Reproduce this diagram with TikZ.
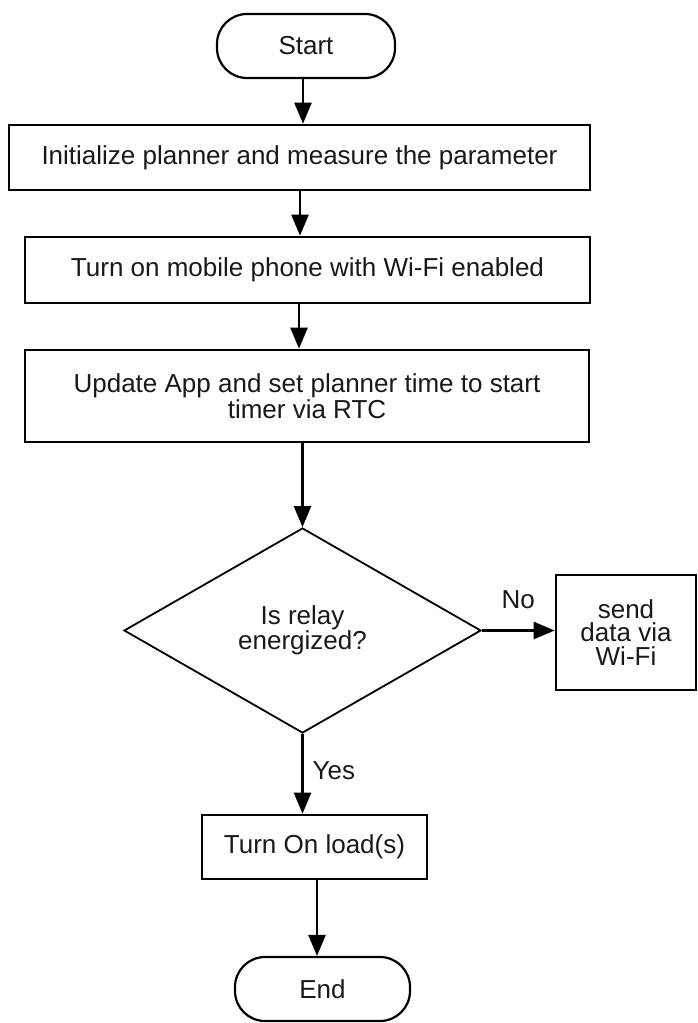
\documentclass[tikz,border=0pt]{standalone}
\usepackage{fontspec}
\setmainfont{Liberation Sans}
\usetikzlibrary{shapes.geometric,arrows.meta,calc}
\begin{document}
\begin{tikzpicture}[x=1pt,y=-1pt,
  every node/.style={font=\fontsize{26}{25.5}\selectfont, text=black!90},
  box/.style={draw, line width=2.6pt, align=center, inner sep=0pt},
  term/.style={draw, line width=2.2pt, rounded corners=30pt, inner sep=0pt, align=center},
  decision/.style={draw, diamond, line width=1.8pt, inner sep=0pt, align=center},
  arr/.style={line width=2.4pt, -{Triangle[length=21pt,width=17pt]}},
  lbl/.style={inner sep=0pt}]
\useasboundingbox (0,0) rectangle (697,1023);
\fill[white] (0,0) rectangle (697,1023);

\node[term, minimum width=178pt, minimum height=64pt] (start) at (306,46) {Start};
\node[box, minimum width=581pt, minimum height=65pt] (b1) at (299.5,157.5) {Initialize planner and measure the parameter};
\node[box, minimum width=565pt, minimum height=66pt] (b2) at (307.5,270) {Turn on mobile phone with Wi-Fi enabled};
\node[box, minimum width=564pt, minimum height=92pt] (b3) at (307,396) {Update App and set planner time to start\\timer via RTC};
\node[decision, minimum width=357pt, minimum height=205pt] (dec) at (302.5,630.5) {Is relay\\energized?};
\node[box, minimum width=140pt, minimum height=115pt, font=\fontsize{26}{23.5}\selectfont] (send) at (626,632.5) {send\\data via\\Wi-Fi};
\node[box, minimum width=225pt, minimum height=64pt] (on) at (314.5,847) {Turn On load(s)};
\node[term, minimum width=175pt, minimum height=64pt] (end) at (322.5,989) {End};

\draw[arr] ([xshift=-3pt]start.south) -- ([xshift=-3pt]start.south |- b1.north);
\draw[arr] ([xshift=0.5pt]b1.south) -- ([xshift=0.5pt]b1.south |- b2.north);
\draw[arr] ([xshift=-8.5pt]b2.south) -- ([xshift=-8.5pt]b2.south |- b3.north);
\draw[arr] (dec.north |- b3.south) -- (dec.north);
\draw[arr] (dec.east) -- (dec.east -| send.west) node[lbl, midway, above=21pt] (no) {No};
\draw[arr] (dec.south) -- (dec.south |- on.north);
\node[lbl, anchor=west] (yes) at ($(dec.south)+(10,37)$) {Yes};
\draw[arr] ([xshift=2.5pt]on.south) -- ([xshift=2.5pt]on.south |- end.north);
\end{tikzpicture}
\end{document}
